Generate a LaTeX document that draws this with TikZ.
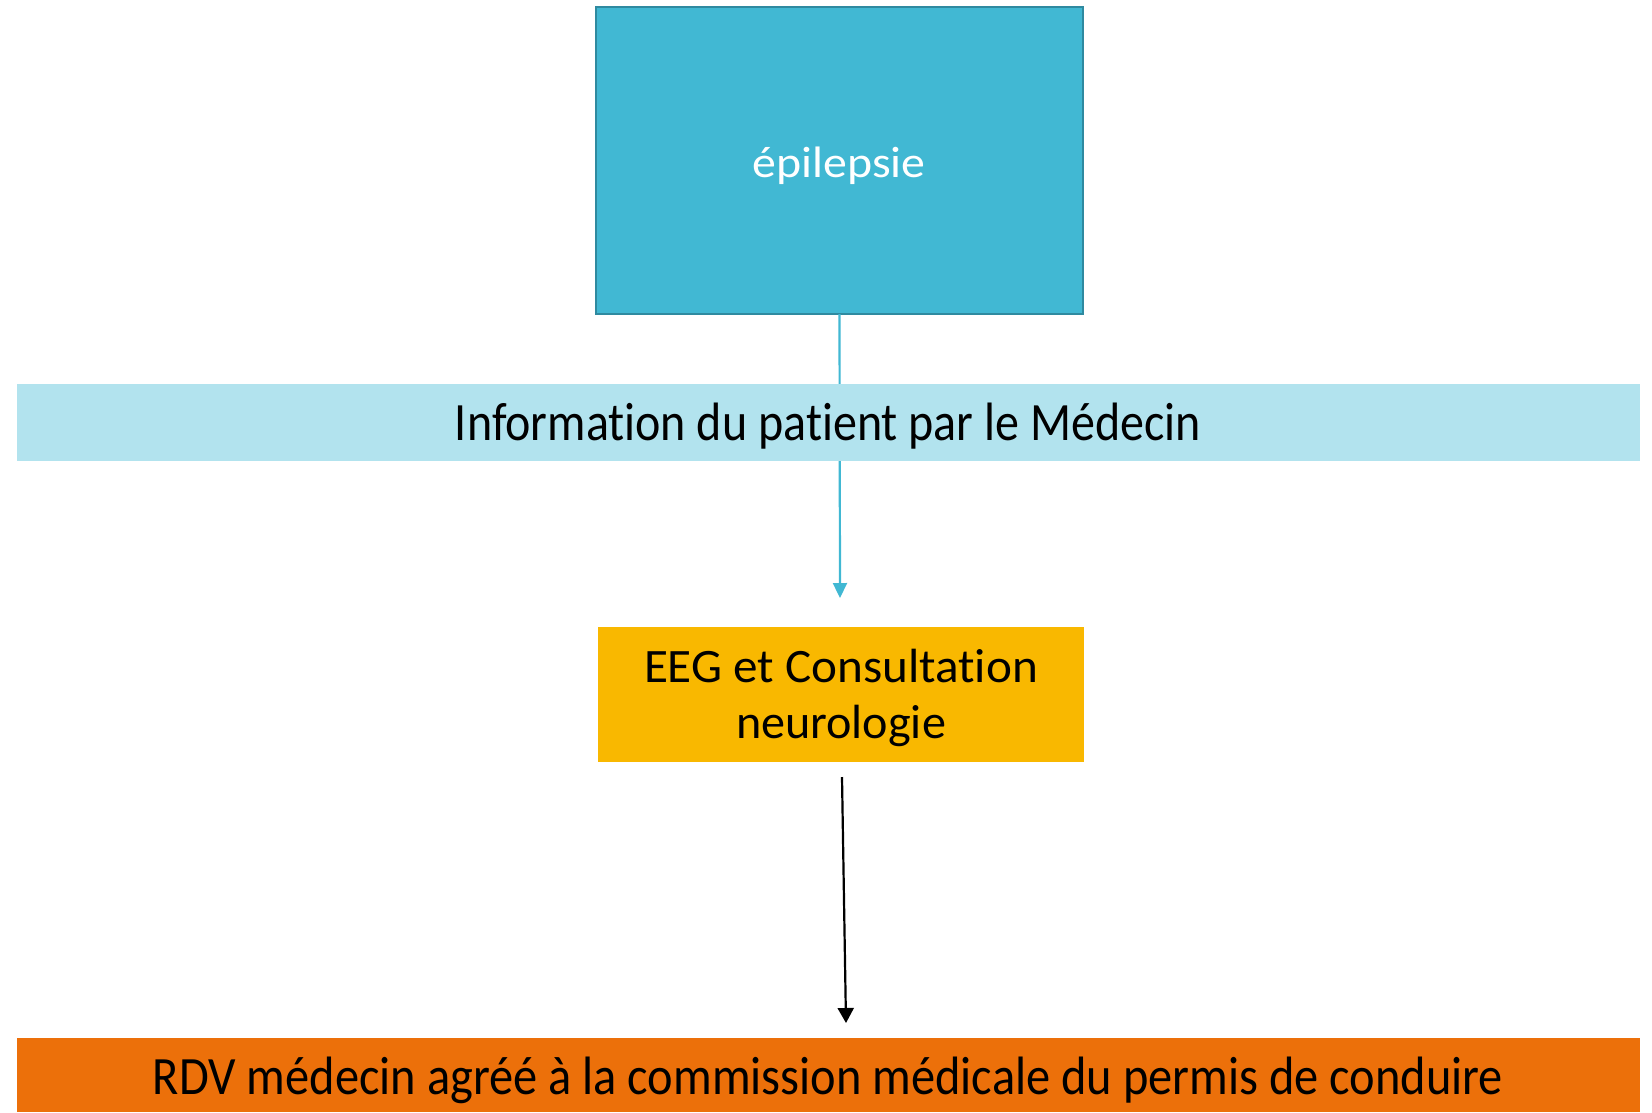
\documentclass[tikz,border=0pt]{standalone}
\usepackage{fontspec}
\setmainfont{Carlito}[Ligatures={NoCommon,TeX}]
\usetikzlibrary{arrows.meta}
\definecolor{topfill}{HTML}{41B8D3}
\definecolor{topdraw}{HTML}{2F8AA0}
\definecolor{bandfill}{HTML}{B2E3EE}
\definecolor{yellowfill}{HTML}{F9B800}
\definecolor{orangefill}{HTML}{EC700A}
\begin{document}
\begin{tikzpicture}[x=1pt,y=-1pt,
  panel/.style={anchor=north west, inner sep=0pt, outer sep=0pt},
  lbl/.style={anchor=base, inner sep=0pt, outer sep=0pt},
  cyanarrow/.style={draw=topfill, line width=2.2pt, -{Triangle[length=15pt,width=14pt]}},
  blackarrow/.style={draw=black, line width=2.2pt, -{Triangle[length=15pt,width=16pt]}}]
\useasboundingbox[fill=white] (0,0) rectangle (1652,1112);
% top box
\node[panel, fill=topfill, draw=topdraw, line width=1.5pt, minimum width=487pt, minimum height=307pt] (epi) at (596,7) {};
\node[lbl, text=white, font=\fontsize{44}{44}\selectfont] (epitxt) at (839,177) {\resizebox{173pt}{\height}{épilepsie}};
% cyan connector (behind band)
\coordinate (tip1) at (840,598);
\draw[cyanarrow] (epi.south) -- (tip1);
% information band
\node[panel, fill=bandfill, minimum width=1623pt, minimum height=77pt] (info) at (17,384) {};
\node[lbl, font=\fontsize{54}{54}\selectfont] (infotxt) at (828,440) {\resizebox{746pt}{\height}{Information du patient par le Médecin}};
% EEG box
\node[panel, fill=yellowfill, minimum width=486pt, minimum height=135pt] (eeg) at (598,627) {};
\node[lbl, font=\fontsize{48}{48}\selectfont] (eegtxta) at (841,682) {\resizebox{394pt}{\height}{EEG et Consultation}};
\node[lbl, font=\fontsize{48}{48}\selectfont] (eegtxtb) at (841,738) {\resizebox{210pt}{\height}{neurologie}};
% black connector
\coordinate (start2) at (842,777);
\coordinate (tip2) at (846,1023);
\draw[blackarrow] (start2) -- (tip2);
% RDV band
\node[panel, fill=orangefill, minimum width=1623pt, minimum height=74pt] (rdv) at (17,1038) {};
\node[lbl, font=\fontsize{54}{54}\selectfont] (rdvtxt) at (828,1094) {\resizebox{1350pt}{\height}{RDV médecin agréé à la commission médicale du permis de conduire}};
\end{tikzpicture}
\end{document}
